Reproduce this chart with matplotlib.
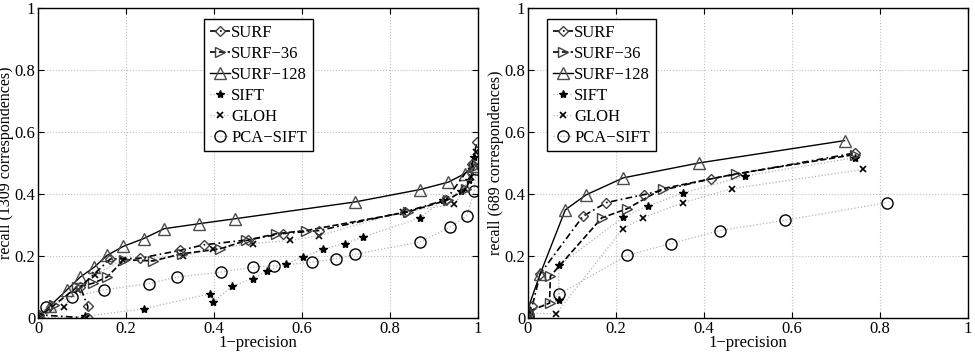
import matplotlib
matplotlib.use('Agg')
import matplotlib.pyplot as plt
from matplotlib.ticker import FuncFormatter

plt.rcParams['font.family'] = ['Liberation Serif', 'DejaVu Serif']
plt.rcParams['font.size'] = 11

names = ['SURF', 'SURF\u221236', 'SURF\u2212128', 'SIFT', 'GLOH', 'PCA\u2212SIFT']

# left panel: 1309 correspondences
l_surf_x = [0, 0.003, 0.113, 0.113, 0.096, 0.164, 0.232, 0.323, 0.377, 0.478, 0.556, 0.639, 0.834, 0.928, 0.987, 0.998]
l_surf_y = [0, 0.01, 0.0, 0.038, 0.1, 0.19, 0.193, 0.218, 0.236, 0.252, 0.272, 0.282, 0.342, 0.381, 0.497, 0.567]
l_s36_x = [0, 0.036, 0.089, 0.125, 0.157, 0.196, 0.262, 0.327, 0.414, 0.474, 0.542, 0.61, 0.841, 0.932, 0.974, 0.992]
l_s36_y = [0, 0.041, 0.1, 0.112, 0.132, 0.188, 0.184, 0.207, 0.223, 0.25, 0.272, 0.282, 0.342, 0.381, 0.417, 0.487]
l_s128_x = [0, 0.028, 0.066, 0.096, 0.128, 0.157, 0.194, 0.24, 0.287, 0.366, 0.448, 0.72, 0.868, 0.933, 0.97, 0.99]
l_s128_y = [0, 0.04, 0.091, 0.132, 0.164, 0.202, 0.231, 0.256, 0.288, 0.304, 0.32, 0.374, 0.414, 0.438, 0.465, 0.49]
l_sift_x = [0, 0.107, 0.241, 0.391, 0.399, 0.442, 0.489, 0.52, 0.565, 0.603, 0.647, 0.697, 0.739, 0.869, 0.92, 0.962, 0.981, 0.992]
l_sift_y = [0, 0.005, 0.03, 0.078, 0.052, 0.103, 0.127, 0.151, 0.175, 0.197, 0.221, 0.24, 0.261, 0.323, 0.379, 0.411, 0.444, 0.519]
l_gloh_x = [0, 0.058, 0.09, 0.13, 0.194, 0.33, 0.399, 0.489, 0.573, 0.64, 0.83, 0.947, 0.97, 0.985, 0.995]
l_gloh_y = [0, 0.035, 0.09, 0.14, 0.188, 0.2, 0.223, 0.24, 0.25, 0.266, 0.342, 0.366, 0.417, 0.454, 0.535]
l_pca_x = [0, 0.019, 0.077, 0.151, 0.253, 0.315, 0.415, 0.489, 0.536, 0.623, 0.677, 0.72, 0.868, 0.937, 0.975, 0.992, 0.996]
l_pca_y = [0, 0.035, 0.068, 0.091, 0.111, 0.132, 0.148, 0.164, 0.168, 0.18, 0.191, 0.205, 0.245, 0.293, 0.329, 0.409, 0.481]

# right panel: 689 correspondences
r_surf_x = [0, 0, 0.01, 0.028, 0.125, 0.178, 0.264, 0.416, 0.743]
r_surf_y = [0, 0.02, 0.04, 0.143, 0.328, 0.372, 0.398, 0.449, 0.532]
r_s36_x = [0, 0, 0.049, 0.051, 0.168, 0.225, 0.306, 0.474, 0.743]
r_s36_y = [0, 0.02, 0.048, 0.135, 0.323, 0.352, 0.417, 0.465, 0.527]
r_s128_x = [0, 0, 0.028, 0.085, 0.132, 0.217, 0.389, 0.72]
r_s128_y = [0, 0.03, 0.143, 0.349, 0.397, 0.452, 0.5, 0.572]
r_sift_x = [0, 0, 0.07, 0.07, 0.217, 0.272, 0.353, 0.493, 0.744]
r_sift_y = [0, 0.025, 0.057, 0.17, 0.325, 0.361, 0.403, 0.458, 0.517]
r_gloh_x = [0, 0, 0.064, 0.216, 0.261, 0.353, 0.463, 0.763]
r_gloh_y = [0, 0.015, 0.014, 0.288, 0.323, 0.372, 0.417, 0.479]
r_pca_x = [0, 0, 0.07, 0.225, 0.325, 0.436, 0.584, 0.816]
r_pca_y = [0, 0.01, 0.076, 0.202, 0.24, 0.282, 0.315, 0.372]

styles = [
    dict(ls='-.', color='k', marker='D', ms=5.5, mfc='none', mec='0.25', lw=1.2, dashes=(4, 2, 1, 2)),
    dict(ls='--', color='k', marker='>', ms=7, mfc='none', mec='0.25', lw=1.2),
    dict(ls='-', color='k', marker='^', ms=8, mfc='none', mec='0.3', lw=1.0),
    dict(ls=':', color='0.7', marker='*', ms=6, mfc='k', mec='k', lw=0.9),
    dict(ls=':', color='0.7', marker='x', ms=5, mfc='k', mec='k', lw=0.9, mew=1.2),
    dict(ls=':', color='0.7', marker='o', ms=8, mfc='none', mec='k', lw=0.9),
]

fig = plt.figure(figsize=(9.75, 3.52), dpi=100)
ax1 = fig.add_axes([0.039, 0.0966, 0.451, 0.881])
ax2 = fig.add_axes([0.5415, 0.0966, 0.451, 0.881])

left_data = [(l_surf_x, l_surf_y), (l_s36_x, l_s36_y), (l_s128_x, l_s128_y),
             (l_sift_x, l_sift_y), (l_gloh_x, l_gloh_y), (l_pca_x, l_pca_y)]
right_data = [(r_surf_x, r_surf_y), (r_s36_x, r_s36_y), (r_s128_x, r_s128_y),
              (r_sift_x, r_sift_y), (r_gloh_x, r_gloh_y), (r_pca_x, r_pca_y)]

fmt = FuncFormatter(lambda v, p: '%g' % round(v, 2))

for ax, data, ylab, lx in [(ax1, left_data, 'recall (1309 correspondences)', 0.377),
                           (ax2, right_data, 'recall (689 correspondences)', 0.043)]:
    # grey dotted curves first so the black ones sit on top
    lines = {}
    for i in [5, 4, 3, 2, 1, 0]:
        x, y = data[i]
        lines[i], = ax.plot(x, y, label=names[i], **styles[i])
    ax.set_xlim(0, 1)
    ax.set_ylim(0, 1)
    ax.set_xticks([0, 0.2, 0.4, 0.6, 0.8, 1])
    ax.set_yticks([0, 0.2, 0.4, 0.6, 0.8, 1])
    ax.xaxis.set_major_formatter(fmt)
    ax.yaxis.set_major_formatter(fmt)
    ax.tick_params(direction='in', top=True, right=True, labelsize=12, pad=2, length=4)
    ax.grid(True, ls=':', color='0.75', lw=0.8)
    for s in ax.spines.values():
        s.set_linewidth(1.0)
    ax.set_xlabel('1\u2212precision', fontsize=12, labelpad=-1)
    ax.set_ylabel(ylab, fontsize=11.5, labelpad=0)
    leg = ax.legend([lines[i] for i in range(6)], names, loc='upper left',
                    bbox_to_anchor=(lx, 0.965), fancybox=False, edgecolor='k',
                    framealpha=1, handlelength=1.2, handletextpad=0.1,
                    borderpad=0.35, labelspacing=0.3, fontsize=12, borderaxespad=0)
    leg.get_frame().set_linewidth(1.0)

fig.savefig('out.png', dpi=100)
